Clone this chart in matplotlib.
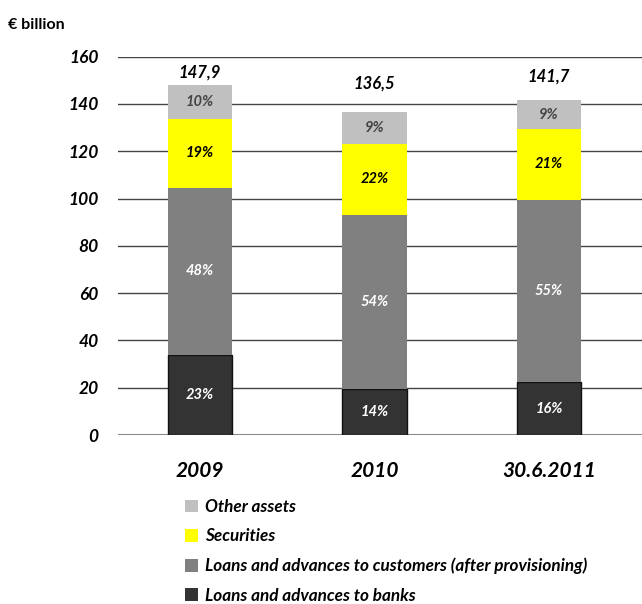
import matplotlib
matplotlib.use("Agg")
import matplotlib.pyplot as plt
from matplotlib.patches import Patch

categories = ["2009", "2010", "30.6.2011"]
banks = [33.8, 19.5, 22.3]
customers = [70.8, 73.6, 77.2]
securities = [29.0, 30.0, 29.9]
other = [14.3, 13.4, 12.3]
totals = ["147,9", "136,5", "141,7"]
pct_banks = ["23%", "14%", "16%"]
pct_customers = ["48%", "54%", "55%"]
pct_securities = ["19%", "22%", "21%"]
pct_other = ["10%", "9%", "9%"]
series_names = ["Loans and advances to banks",
                "Loans and advances to customers (after provisioning)",
                "Securities", "Other assets"]
yticks = [0, 20, 40, 60, 80, 100, 120, 140, 160]

FONT = ["Lato", "DejaVu Sans"]
plt.rcParams["font.family"] = FONT

fig = plt.figure(figsize=(6.42, 6.04), dpi=100)
ax = fig.add_axes([118/642, 1-435/604, 1-118/642, (435-56.7)/604])

x = list(range(len(categories)))
w = 0.367
colors = ["#333333", "#808080", "#FFFF00", "#C0C0C0"]
series = [banks, customers, securities, other]
pcts = [pct_banks, pct_customers, pct_securities, pct_other]
txtcol = ["white", "white", "black", "#444444"]
total_offsets = [9, 21, 17]  # label offset above each bar, points

for v in yticks[1:]:
    ax.axhline(v, color="#444444", lw=1.0, zorder=0)
ax.axhline(0, color="#888888", lw=2.2, zorder=0)

bottom = [0, 0, 0]
for i, (vals, c) in enumerate(zip(series, colors)):
    ec = "#111111" if i == 0 else "none"
    ax.bar(x, vals, w, bottom=bottom, color=c, edgecolor=ec, lw=1.0 if i == 0 else 0, zorder=2)
    for j in range(3):
        ax.text(x[j], bottom[j] + vals[j] / 2, pcts[i][j], ha="center", va="center",
                color=txtcol[i], fontsize=10.5, fontweight="bold", style="italic", zorder=3)
    bottom = [b + v for b, v in zip(bottom, vals)]

for j in range(3):
    ax.annotate(totals[j], (x[j], bottom[j]), xytext=(0, total_offsets[j]), textcoords="offset points",
                ha="center", va="center", fontsize=12, fontweight="bold", style="italic")

ax.set_xlim(-0.47, 2.533)
ax.set_ylim(0, 160)
ax.set_yticks(yticks)
ax.set_yticklabels([str(v) for v in yticks], fontsize=12.5, fontweight="bold", style="italic")
ax.set_xticks(x)
ax.set_xticklabels(categories, fontsize=15, fontweight="bold", style="italic")
ax.tick_params(axis="both", length=0)
ax.tick_params(axis="y", pad=14)
ax.tick_params(axis="x", pad=19)
for s in ax.spines.values():
    s.set_visible(False)

fig.text(8/642, 1-25/604, "€ billion", fontsize=11.5, fontweight="bold", va="center", ha="left")

handles = [Patch(facecolor=colors[i], edgecolor="none") for i in [3, 2, 1, 0]]
labels = [series_names[i] for i in [3, 2, 1, 0]]
fig.legend(handles, labels, loc="upper left", bbox_to_anchor=(185/642, 1-499/604),
           frameon=False, prop={"family": FONT, "weight": "bold", "style": "italic", "size": 12.3},
           handlelength=0.75, handleheight=0.75, handletextpad=0.4, labelspacing=0.78,
           borderaxespad=0, borderpad=0)

fig.savefig("out.png", dpi=100)
